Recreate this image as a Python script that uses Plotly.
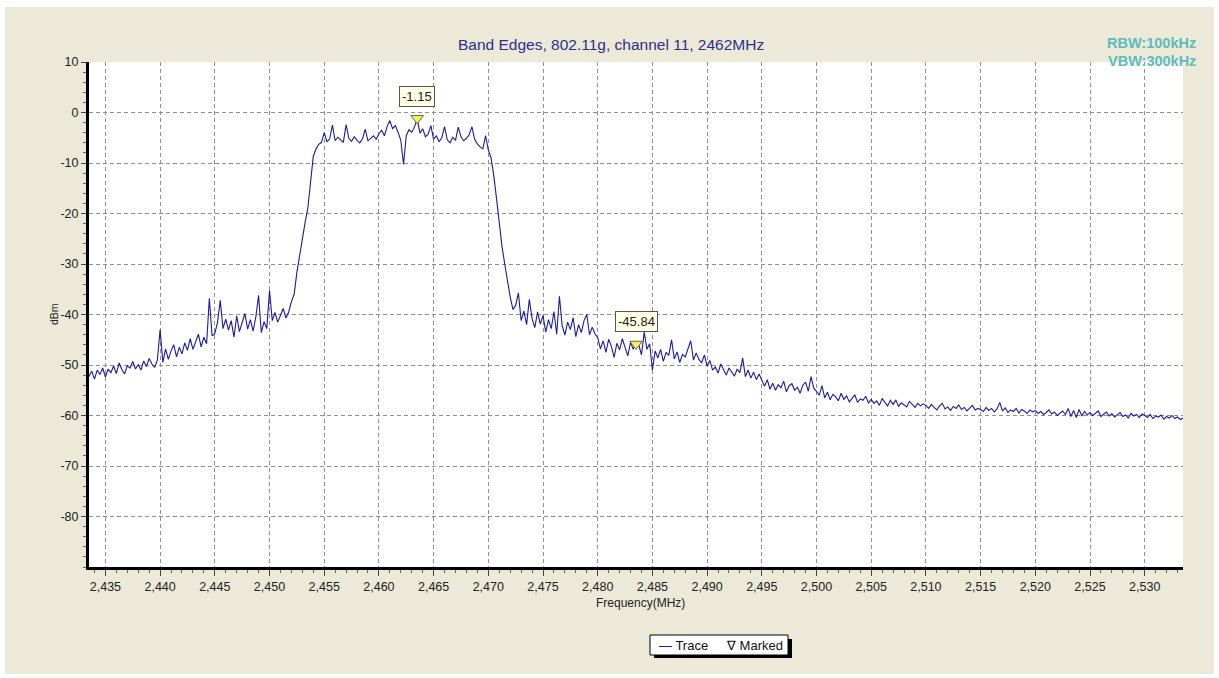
import plotly.graph_objects as go

# ---------------- data ----------------
STEP_MHZ = 0.25
SEG_START = [2433.5, 2435, 2440, 2445, 2450, 2455, 2460, 2465, 2470, 2475, 2480,
             2485, 2490, 2495, 2500, 2505, 2510, 2515, 2520, 2525, 2530]
seg_2433 = [-52.3, -51.2, -52.8, -51.0, -51.9, -50.6]
seg_2435 = [-52.4, -50.8, -51.5, -50.2, -51.7, -49.6, -50.9, -51.8, -50.1, -50.6, -49.3, -50.8, -49.9, -51.0, -49.2, -50.3, -48.7, -49.8, -50.5, -49.0]
seg_2440 = [-43.0, -49.5, -46.8, -48.9, -47.2, -46.0, -48.4, -46.5, -47.8, -45.6, -47.1, -44.8, -46.9, -45.2, -43.9, -46.4, -44.5, -45.8, -36.8, -44.2]
seg_2445 = [-43.8, -41.5, -37.2, -42.8, -40.9, -43.1, -41.2, -44.5, -40.3, -43.4, -41.6, -39.8, -42.9, -41.0, -43.3, -40.5, -36.2, -43.6, -41.4, -42.8]
seg_2450 = [-35.2, -41.2, -39.6, -41.5, -40.2, -38.8, -40.7, -39.5, -37.5, -36.0, -31.7, -28.2, -25.0, -21.8, -19.0, -14.0, -8.7, -7.2, -6.3, -5.9]
seg_2455 = [-4.0, -5.8, -5.2, -2.5, -5.6, -4.9, -5.4, -5.9, -2.4, -5.1, -5.7, -4.8, -5.5, -6.0, -5.2, -3.3, -5.6, -5.0, -4.6, -5.3]
seg_2460 = [-4.2, -3.5, -4.6, -2.8, -1.6, -3.2, -2.6, -3.9, -5.5, -10.3, -4.6, -3.4, -3.9, -2.9, -1.15, -4.1, -3.2, -4.8, -4.3, -2.6]
seg_2465 = [-5.3, -4.6, -5.8, -5.0, -2.8, -5.4, -6.0, -4.9, -5.5, -2.9, -4.8, -5.6, -5.1, -4.4, -2.8, -5.3, -6.2, -6.8, -7.2, -4.6]
seg_2470 = [-7.4, -9.0, -12.5, -17.0, -22.0, -26.5, -30.0, -33.5, -36.5, -39.0, -38.2, -35.7, -41.2, -39.3, -42.0, -37.0, -40.8, -42.6, -39.5, -41.9]
seg_2475 = [-40.2, -43.5, -41.0, -42.8, -39.4, -43.9, -36.4, -42.2, -44.1, -41.5, -43.0, -40.6, -44.4, -42.0, -43.6, -41.2, -40.0, -44.0, -42.5, -43.8]
seg_2480 = [-44.6, -46.8, -45.2, -47.5, -44.9, -46.3, -48.5, -45.7, -47.0, -44.8, -46.6, -48.2, -45.5, -46.9, -45.84, -46.0, -48.0, -43.5, -46.9, -45.8]
seg_2485 = [-51.0, -47.2, -48.6, -46.9, -49.3, -47.5, -48.1, -45.0, -48.8, -47.4, -49.5, -47.9, -48.4, -46.8, -45.2, -49.0, -47.6, -48.9, -49.6, -48.0]
seg_2490 = [-50.2, -49.1, -51.0, -50.4, -51.6, -49.8, -50.9, -52.0, -50.6, -51.3, -52.2, -50.8, -51.5, -48.6, -52.3, -51.0, -52.6, -51.4, -52.9, -51.8]
seg_2495 = [-53.0, -54.2, -52.9, -54.8, -53.6, -55.0, -53.9, -54.5, -53.2, -55.3, -54.1, -53.7, -55.0, -54.4, -55.6, -54.0, -53.4, -55.2, -52.3, -54.6]
seg_2500 = [-55.2, -56.0, -54.1, -56.5, -55.4, -56.9, -55.8, -56.3, -57.1, -55.6, -56.8, -56.1, -57.3, -56.5, -55.9, -57.4, -56.7, -57.0, -56.2, -57.5]
seg_2505 = [-56.8, -57.6, -57.1, -58.0, -56.6, -57.4, -58.1, -57.0, -57.8, -56.9, -58.2, -57.5, -57.9, -58.3, -57.2, -57.8, -58.4, -57.6, -58.1, -57.7]
seg_2510 = [-58.0, -58.6, -57.8, -58.4, -58.9, -58.1, -57.6, -58.7, -58.3, -59.0, -58.2, -58.6, -57.9, -58.8, -58.4, -59.1, -58.5, -58.0, -58.9, -58.6]
seg_2515 = [-58.8, -59.2, -58.4, -59.0, -58.6, -59.3, -58.7, -57.4, -59.1, -58.5, -59.4, -58.9, -59.2, -58.6, -59.5, -58.8, -59.1, -59.6, -58.9, -59.3]
seg_2520 = [-59.0, -59.6, -59.2, -59.8, -59.4, -58.9, -59.7, -59.3, -60.0, -59.5, -59.1, -59.8, -58.6, -60.2, -59.0, -60.4, -58.8, -60.1, -59.2, -59.9]
seg_2525 = [-59.4, -60.0, -59.5, -59.1, -60.2, -59.7, -59.3, -60.1, -59.6, -60.3, -59.8, -59.4, -60.2, -59.9, -60.5, -59.6, -60.1, -59.8, -60.4, -59.7]
seg_2530 = [-60.0, -60.4, -59.8, -60.6, -60.1, -60.3, -59.9, -60.7, -60.2, -60.5, -60.0, -60.6, -60.3, -60.8, -60.5]
SEGMENTS = [seg_2433, seg_2435, seg_2440, seg_2445, seg_2450, seg_2455, seg_2460, seg_2465,
            seg_2470, seg_2475, seg_2480, seg_2485, seg_2490, seg_2495, seg_2500, seg_2505,
            seg_2510, seg_2515, seg_2520, seg_2525, seg_2530]

MARKER_FREQS = [2463.5, 2483.5]
Y_TICKS = [10, 0, -10, -20, -30, -40, -50, -60, -70, -80]
Y_TICK_TEXT = ["10", "0", "-10", "-20", "-30", "-40", "-50", "-60", "-70", "-80"]
X_RANGE = [2433.5, 2533.5]
Y_RANGE = [-90, 10]

freq, level = [], []
for start, seg in zip(SEG_START, SEGMENTS):
    for i, v in enumerate(seg):
        freq.append(round(start + i * STEP_MHZ, 3))
        level.append(v)

mk_x, mk_y = [], []
for mf in MARKER_FREQS:
    idx = min(range(len(freq)), key=lambda k: abs(freq[k] - mf))
    mk_x.append(freq[idx])
    mk_y.append(level[idx])

# ---------------- figure ----------------
TRACE_COLOR = "#1C1C9E"
BEIGE = "#ECE9D8"
FONT = "Liberation Sans, Arial, sans-serif"

W, H = 1219, 678
L, R, T, B = 89, 36, 62, 111
PW, PH = W - L - R, H - T - B


def px(xp):
    return (xp - L) / PW


def py(yp):
    return (H - B - yp) / PH


fig = go.Figure()
fig.add_trace(go.Scatter(x=freq, y=level, mode="lines",
                         line=dict(color=TRACE_COLOR, width=1.1), name="Trace",
                         hoverinfo="x+y"))
fig.add_trace(go.Scatter(x=mk_x, y=mk_y, mode="markers", name="Marked",
                         marker=dict(symbol="triangle-down", size=11, color="#F2EE6A",
                                     line=dict(color="#6B6B2A", width=1))))

annotations = []
for x, y in zip(mk_x, mk_y):
    annotations.append(dict(x=x, y=y, xref="x", yref="y", text=f"{y:.2f}", showarrow=False,
                            xanchor="center", yanchor="middle",
                            yshift=22, font=dict(family=FONT, size=13, color="#222"),
                            bgcolor="#FFFFE6", bordercolor="#55554A", borderwidth=1, borderpad=2))


def label(xp, yp, text, size, color="#222", xanchor="center", **kw):
    return dict(x=px(xp), y=py(yp), xref="paper", yref="paper", showarrow=False,
                xanchor=xanchor, yanchor="middle", text=text,
                font=dict(family=FONT, size=size, color=color), **kw)


annotations += [
    label(611, 45, "Band Edges, 802.11g, channel 11, 2462MHz", 15.5, "#2E2E8C"),
    label(1198, 43, "<b>RBW:100kHz</b>", 14.5, "#5CBCBC", xanchor="right"),
    label(1198, 61, "<b>VBW:300kHz</b>", 14.5, "#5CBCBC", xanchor="right"),
    label(54, 314, "dBm", 10.5, textangle=-90),
    label(640, 603, "Frequency(MHz)", 12),
    label(657, 645, f"<span style='color:{TRACE_COLOR}'>—</span> Trace", 13, "#111", xanchor="left"),
    label(724, 645, "∇ Marked", 13, "#111", xanchor="left"),
]

shapes = [
    dict(type="rect", xref="paper", yref="paper", layer="below",
         x0=px(5), x1=px(1214), y0=py(674), y1=py(7), fillcolor=BEIGE, line=dict(width=0)),
    dict(type="rect", xref="paper", yref="paper", layer="below",
         x0=0, x1=1, y0=0, y1=1, fillcolor="white", line=dict(width=0)),
    dict(type="rect", xref="paper", yref="paper",
         x0=px(654), x1=px(792), y0=py(658), y1=py(639), fillcolor="black", line=dict(width=0)),
    dict(type="rect", xref="paper", yref="paper",
         x0=px(650), x1=px(788), y0=py(655), y1=py(635), fillcolor="white",
         line=dict(color="black", width=1)),
]

fig.update_layout(
    width=W, height=H,
    margin=dict(l=L, r=R, t=T, b=B, pad=0),
    paper_bgcolor="white", plot_bgcolor="white",
    showlegend=False,
    font=dict(family=FONT, size=12.5, color="#222"),
    annotations=annotations, shapes=shapes,
    xaxis=dict(range=X_RANGE, tick0=2435, dtick=5, tickformat=",d",
               showgrid=True, gridcolor="#8F8F8F", griddash="4px,3px", gridwidth=1,
               zeroline=False, showline=True, linecolor="black", linewidth=3,
               ticks="outside", ticklen=6, tickcolor="#444", tickwidth=1,
               minor=dict(dtick=1, ticks="outside", ticklen=3, tickcolor="#666", showgrid=False),
               tickfont=dict(family=FONT, size=12.5, color="#222")),
    yaxis=dict(range=Y_RANGE, tickvals=Y_TICKS, ticktext=Y_TICK_TEXT,
               showgrid=True, gridcolor="#8F8F8F", griddash="4px,3px", gridwidth=1,
               zeroline=False, showline=True, linecolor="black", linewidth=3,
               ticks="outside", ticklen=5, tickcolor="#444", tickwidth=1,
               minor=dict(dtick=2, ticks="outside", ticklen=3, tickcolor="#666", showgrid=False),
               tickfont=dict(family=FONT, size=12.5, color="#222")),
)

fig.write_html("out.html", config={"displayModeBar": False},
               post_script="document.body.style.margin='0';document.body.style.overflow='hidden';")
